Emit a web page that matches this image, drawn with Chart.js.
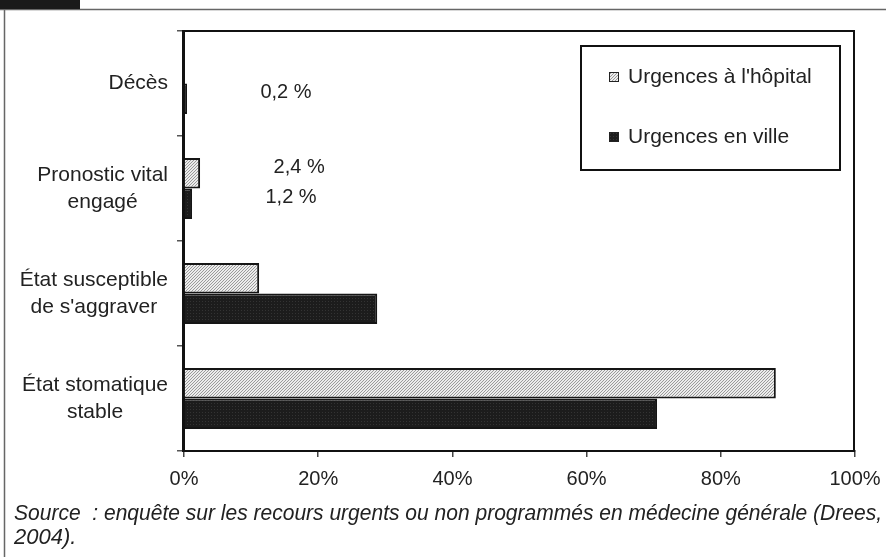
<!DOCTYPE html>
<html>
    <head>
        <meta charset="UTF-8"/>
        <script src="https://cdn.jsdelivr.net/npm/chart.js@4.4.1/dist/chart.umd.min.js"></script>
        <style>
            body{margin:0;background:#fff;}
        </style>
    </head>
    <body>

        <canvas id="chart" width="886" height="557"></canvas>

        <script>
        const categories=[['Décès'],['Pronostic vital','engagé'],['État susceptible',"de s'aggraver"],['État stomatique','stable']];
        const seriesNames=["Urgences à l'hôpital",'Urgences en ville'];
        const hopital=[null,2.4,11.2,88.2];
        const ville=[0.2,1.2,28.8,70.5];
        const xticks=[0,20,40,60,80,100];
        const sourceText=['Source  : enquête sur les recours urgents ou non programmés en médecine générale (Drees,','2004).'];

        // fills that look like the printed hatching
        function hatch(){
            const c=document.createElement('canvas');
            c.width=3;c.height=3;
            const g=c.getContext('2d');
            g.fillStyle='#ececec';g.fillRect(0,0,3,3);
            g.fillStyle='#9a9a9a';
            for(let i=0;i<3;i++){g.fillRect(2-i,i,1,1);}
            return g.createPattern(c,'repeat');
        }
        function dots(){
            const c=document.createElement('canvas');
            c.width=3;c.height=3;
            const g=c.getContext('2d');
            g.fillStyle='#1c1c1c';g.fillRect(0,0,3,3);
            g.fillStyle='#333';g.fillRect(1,1,1,1);
            return g.createPattern(c,'repeat');
        }
        const fills=[hatch(),dots()];

        function pct(v){return v.toFixed(1).replace('.',',')+' %';}

        const frame={
            id:'frame',
            beforeDraw(chart){
                const ctx=chart.ctx;
                ctx.save();
                ctx.fillStyle='#fff';
                ctx.fillRect(0,0,chart.width,chart.height);
                ctx.strokeStyle='#666';
                ctx.lineWidth=1.5;
                ctx.beginPath();
                ctx.moveTo(0,9.5);ctx.lineTo(chart.width,9.5);
                ctx.moveTo(4.5,9.5);ctx.lineTo(4.5,chart.height);
                ctx.stroke();
                ctx.fillStyle='#1a1a1a';
                ctx.fillRect(0,0,80,9);
                ctx.restore();
            },
            afterDatasetsDraw(chart){
                const ctx=chart.ctx, a=chart.chartArea;
                ctx.save();
                ctx.strokeStyle='#111';
                ctx.lineWidth=2;
                ctx.strokeRect(a.left-1,a.top,a.right-a.left,a.bottom-a.top);
                ctx.restore();
            }
        };

        // value labels next to the small bars
        const valueLabels={
            id:'valueLabels',
            afterDatasetsDraw(chart){
                const ctx=chart.ctx;
                ctx.save();
                ctx.font='20px "Liberation Sans", Arial, sans-serif';
                ctx.fillStyle='#222';
                ctx.textAlign='center';
                ctx.textBaseline='middle';
                chart.data.datasets.forEach((ds,di)=>{
                    chart.getDatasetMeta(di).data.forEach((bar,i)=>{
                        const v=ds.data[i];
                        if(v==null||v>=5) return;
                        ctx.fillText(pct(v),bar.x+99,bar.y-6);
                    });
                });
                ctx.restore();
            }
        };

        // category labels: block right aligned, lines centred inside the block
        const catLabels={
            id:'catLabels',
            afterDraw(chart){
                const ctx=chart.ctx, sc=chart.scales.y;
                ctx.save();
                ctx.font='21px "Liberation Sans", Arial, sans-serif';
                ctx.fillStyle='#222';
                ctx.textAlign='center';
                ctx.textBaseline='middle';
                const right=chart.chartArea.left-16;
                categories.forEach((lines,i)=>{
                    const y=sc.getPixelForTick(i);
                    const w=Math.max(...lines.map(l=>ctx.measureText(l).width));
                    lines.forEach((l,j)=>{
                        ctx.fillText(l,right-w/2,y+(j-(lines.length-1)/2)*27);
                    });
                });
                ctx.restore();
            }
        };

        const boxLegend={
            id:'boxLegend',
            afterDraw(chart){
                const ctx=chart.ctx, a=chart.chartArea;
                const x=a.right-274, y=a.top+15;
                ctx.save();
                ctx.strokeStyle='#111';
                ctx.lineWidth=2;
                ctx.strokeRect(x,y,259,124);
                ctx.font='21px "Liberation Sans", Arial, sans-serif';
                ctx.textBaseline='middle';
                chart.data.datasets.forEach((ds,i)=>{
                    const cy=y+31+i*60;
                    ctx.fillStyle=ds.backgroundColor;
                    ctx.fillRect(x+28,cy-5,10,10);
                    ctx.lineWidth=1;
                    ctx.strokeStyle='#222';
                    ctx.strokeRect(x+28.5,cy-4.5,9,9);
                    ctx.fillStyle='#222';
                    ctx.fillText(ds.label,x+47,cy);
                });
                ctx.restore();
            }
        };

        // source note under the axis, a bit condensed like the print
        const source={
            id:'source',
            afterDraw(chart){
                const ctx=chart.ctx;
                ctx.save();
                ctx.font='italic 22px "Liberation Sans", Arial, sans-serif';
                ctx.fillStyle='#222';
                ctx.textBaseline='middle';
                sourceText.forEach((t,i)=>{
                    ctx.fillText(t,14,chart.chartArea.bottom+63+i*24,868);
                });
                ctx.restore();
            }
        };

        const ctx=document.getElementById('chart').getContext('2d');
        Chart.defaults.font.family='"Liberation Sans", Arial, sans-serif';
        Chart.defaults.font.size=20;
        Chart.defaults.color='#222';

        const myChart=new Chart(ctx,{
            type:'bar',
            data:{
                labels:categories,
                datasets:[{
                    label:seriesNames[0],
                    data:hopital,
                    backgroundColor:fills[0],
                    borderColor:'#151515',
                    borderWidth:2,
                    categoryPercentage:0.58,
                    barPercentage:1.0
                },{
                    label:seriesNames[1],
                    data:ville,
                    backgroundColor:fills[1],
                    borderColor:'#151515',
                    borderWidth:2,
                    minBarLength:3,
                    categoryPercentage:0.58,
                    barPercentage:1.0
                }]
            },
            options:{
                indexAxis:'y',
                responsive:false,
                animation:false,
                layout:{padding:{left:14,right:31,top:31,bottom:66}},
                scales:{
                    x:{
                        min:0,max:100,
                        afterBuildTicks:(s)=>{s.ticks=xticks.map(v=>({value:v}));},
                        afterFit:(s)=>{s.height=40;s.paddingLeft=0;s.paddingRight=0;},
                        ticks:{padding:10,callback:(v)=>v+'%',maxRotation:0},
                        grid:{drawOnChartArea:false,tickLength:6,color:'#444',lineWidth:1.5},
                        border:{color:'#111',width:2}
                    },
                    y:{
                        afterFit:(s)=>{s.width=170;},
                        ticks:{color:'rgba(0,0,0,0)'},
                        grid:{drawOnChartArea:false,tickLength:7,color:'#555',lineWidth:1.5,offset:true},
                        border:{color:'#111',width:2}
                    }
                },
                plugins:{
                    legend:{display:false},
                    tooltip:{enabled:false},
                    title:{display:false}
                }
            },
            plugins:[frame,valueLabels,catLabels,boxLegend,source]
        });
        </script>
    </body>
</html>
